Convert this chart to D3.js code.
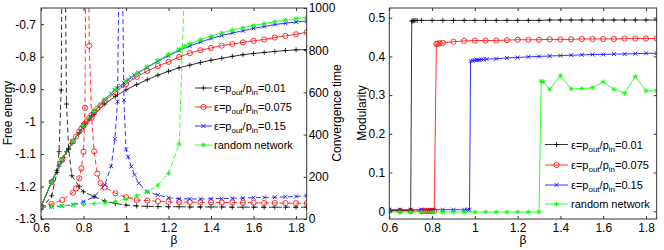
<!DOCTYPE html>
<html><head><meta charset="utf-8">
<script src="https://cdn.jsdelivr.net/npm/d3@7"></script>
<style>body{margin:0;background:#fff;} svg{display:block;font-family:"Liberation Sans",Arial,Helvetica,sans-serif;}</style>
</head><body><svg id="c" width="664" height="250"></svg>
<script>
// ---------- tick labels ----------
const xTicks=[0.6,0.8,1,1.2,1.4,1.6,1.8];
const feTicks=[-1.3,-1.2,-1.1,-1,-0.9,-0.8,-0.7];
const ctTicks=[0,200,400,600,800,1000];
const modTicks=[0,0.1,0.2,0.3,0.4,0.5];
const epsLabels=["0.01","0.075","0.15"];
const randomLabel="random network";
const colors=["#000000","#ff0000","#0000ff","#00ff00"];
const markerTypes=["plus","circle","cross","star"];

// ---------- left panel: free energy (solid) and convergence time (dashed) ----------
const betaBlack=[0.6,0.65,0.675,0.685,0.695,0.705,0.72,0.73,0.745,0.78,0.8,0.85,0.9,0.95,1.0,1.05,1.1,1.15,1.2,1.25,1.3,1.35,1.4,1.45,1.5,1.55,1.6,1.65,1.7,1.75,1.8,1.85];
const feBlack=[-1.262,-1.186,-1.150,-1.137,-1.124,-1.111,-1.093,-1.082,-1.067,-1.034,-1.016,-0.977,-0.946,-0.922,-0.902,-0.886,-0.871,-0.857,-0.845,-0.834,-0.826,-0.818,-0.811,-0.805,-0.799,-0.794,-0.790,-0.787,-0.784,-0.781,-0.779,-0.778];
const ctBlack=[45,110,220,319,611,2200,545,330,205,153,129,106,85,74,66,62,60,59,58,58,57,57,57,57,56,56,56,56,56,56,56,56];

const betaRed=[0.6,0.65,0.7,0.75,0.765,0.78,0.79,0.8,0.807,0.815,0.827,0.838,0.85,0.865,0.88,0.9,0.95,1.0,1.05,1.1,1.15,1.2,1.25,1.3,1.35,1.4,1.45,1.5,1.55,1.6,1.65,1.7,1.75,1.8,1.85];
const feRed=[-1.262,-1.186,-1.117,-1.061,-1.046,-1.031,-1.021,-1.012,-1.006,-0.999,-0.989,-0.980,-0.970,-0.960,-0.950,-0.937,-0.909,-0.884,-0.862,-0.844,-0.829,-0.816,-0.801,-0.789,-0.780,-0.773,-0.766,-0.761,-0.756,-0.751,-0.747,-0.741,-0.736,-0.731,-0.725];
const ctRed=[58,71,90,125,145,193,240,319,527,2200,821,480,320,215,170,150,122,103,90,87,84,82,80,80,79,79,78,78,77,77,76,76,75,75,75];

const betaBlue=[0.6,0.65,0.7,0.75,0.8,0.85,0.9,0.93,0.948,0.96,0.975,0.99,1.0,1.01,1.025,1.04,1.06,1.1,1.15,1.2,1.25,1.3,1.35,1.4,1.45,1.5,1.55,1.6,1.65,1.7,1.75,1.8,1.85];
const feBlue=[-1.262,-1.186,-1.117,-1.061,-1.012,-0.968,-0.932,-0.914,-0.903,-0.897,-0.889,-0.881,-0.876,-0.871,-0.864,-0.857,-0.849,-0.833,-0.814,-0.797,-0.781,-0.767,-0.755,-0.744,-0.735,-0.727,-0.720,-0.713,-0.707,-0.701,-0.697,-0.693,-0.690];
const ctBlue=[55,58,62,68,82,106,161,250,380,556,1900,564,330,295,248,209,169,129,114,101,96,95,95,96,97,98,99,101,102,103,105,107,110];

const betaGreen=[0.6,0.65,0.7,0.75,0.8,0.85,0.9,0.95,1.0,1.05,1.1,1.15,1.2,1.25,1.275,1.3,1.35,1.4,1.45,1.5,1.55,1.6,1.65,1.7,1.75,1.8,1.85];
const feGreen=[-1.262,-1.186,-1.117,-1.061,-1.012,-0.968,-0.932,-0.902,-0.875,-0.852,-0.831,-0.811,-0.793,-0.777,-0.768,-0.760,-0.748,-0.737,-0.727,-0.718,-0.711,-0.704,-0.698,-0.692,-0.687,-0.683,-0.679];
const ctGreen=[55,58,62,66,70,73,77,82,95,110,130,160,216,355,1100,null,null,null,null,null,null,null,null,null,null,null,null];

// ---------- right panel: modularity ----------
const betaModBlack=[0.6,0.65,0.7,0.705,0.71,0.715,0.72,0.73,0.75,0.8,0.85,0.9,0.95,1.0,1.05,1.1,1.15,1.2,1.25,1.3,1.35,1.4,1.45,1.5,1.55,1.6,1.65,1.7,1.75,1.8,1.85];
const modBlack=[0.002,0.002,0.002,0.491,0.492,0.492,0.493,0.493,0.493,0.493,0.493,0.493,0.493,0.493,0.493,0.493,0.493,0.493,0.493,0.493,0.494,0.494,0.494,0.494,0.494,0.494,0.494,0.494,0.494,0.494,0.494];

const betaModRed=[0.6,0.65,0.7,0.75,0.76,0.77,0.78,0.79,0.8,0.81,0.82,0.825,0.835,0.85,0.9,0.95,1.0,1.05,1.1,1.15,1.2,1.25,1.3,1.35,1.4,1.45,1.5,1.55,1.6,1.65,1.7,1.75,1.8,1.85];
const modRed=[0.001,0.001,0.001,0.001,0.001,0.001,0.001,0.001,0.001,0.001,0.432,0.433,0.434,0.435,0.438,0.440,0.441,0.441,0.441,0.442,0.443,0.443,0.443,0.444,0.444,0.444,0.445,0.445,0.445,0.445,0.446,0.446,0.446,0.446];

const betaModBlue=[0.6,0.65,0.7,0.75,0.8,0.85,0.9,0.95,0.965,0.975,0.98,0.99,1.0,1.01,1.02,1.03,1.04,1.055,1.1,1.15,1.2,1.25,1.3,1.35,1.4,1.45,1.5,1.55,1.6,1.65,1.7,1.75,1.8,1.85];
const modBlue=[0.004,0.004,0.004,0.004,0.004,0.004,0.004,0.004,0.004,0.004,0.388,0.389,0.390,0.391,0.391,0.392,0.392,0.393,0.394,0.396,0.397,0.399,0.400,0.401,0.402,0.403,0.404,0.405,0.405,0.406,0.406,0.407,0.408,0.408];

const betaModGreen=[0.6,0.65,0.7,0.75,0.8,0.85,0.9,0.95,1.0,1.05,1.1,1.15,1.2,1.25,1.3,1.31,1.32,1.35,1.4,1.45,1.5,1.55,1.6,1.65,1.7,1.75,1.8,1.85];
const modGreen=[-0.002,-0.002,-0.002,-0.002,-0.002,-0.002,-0.002,-0.002,-0.002,-0.002,-0.002,-0.002,-0.002,-0.002,-0.002,0.336,0.334,0.315,0.350,0.316,0.317,0.319,0.334,0.315,0.305,0.348,0.311,0.311];

// ---------- build ----------
const leftSeries=[
  {beta:betaBlack,fe:feBlack,ct:ctBlack},
  {beta:betaRed,fe:feRed,ct:ctRed},
  {beta:betaBlue,fe:feBlue,ct:ctBlue},
  {beta:betaGreen,fe:feGreen,ct:ctGreen}
];
const rightSeries=[
  {beta:betaModBlack,m:modBlack},
  {beta:betaModRed,m:modRed},
  {beta:betaModBlue,m:modBlue},
  {beta:betaModGreen,m:modGreen}
];
const legendLabels=[...epsLabels.map(e=>({eps:e})),{plain:randomLabel}];

const svg=d3.select('#c');
const L={x0:41,x1:306.7,y0:8,y1:219};
const R={x0:389.3,x1:656.7,y0:8,y1:219};
const xL=d3.scaleLinear().domain([0.6,1.85]).range([L.x0,L.x1]);
const yFE=d3.scaleLinear().domain([-1.3,-0.65]).range([L.y1,L.y0]);
const yCT=d3.scaleLinear().domain([0,1000]).range([L.y1,L.y0]);
const xR=d3.scaleLinear().domain([0.6,1.85]).range([R.x0,R.x1]);
const yM=d3.scaleLinear().domain([-0.02,0.525]).range([R.y1,R.y0]);

const defs=svg.append('defs');
defs.append('clipPath').attr('id','clipL').append('rect').attr('x',L.x0).attr('y',L.y0).attr('width',L.x1-L.x0).attr('height',L.y1-L.y0);
defs.append('clipPath').attr('id','clipR').append('rect').attr('x',R.x0).attr('y',R.y0).attr('width',R.x1-R.x0).attr('height',R.y1-R.y0);

function markerPath(type,x,y){
  const s=2.5;
  if(type==='plus') return `M${x-s},${y}H${x+s}M${x},${y-s}V${y+s}`;
  if(type==='cross'){const c=2;return `M${x-c},${y-c}L${x+c},${y+c}M${x-c},${y+c}L${x+c},${y-c}`;}
  if(type==='star'){const c=1.8;return `M${x-s},${y}H${x+s}M${x},${y-s}V${y+s}M${x-c},${y-c}L${x+c},${y+c}M${x-c},${y+c}L${x+c},${y-c}`;}
  const r=2.6;
  return `M${x+r},${y}A${r},${r} 0 1,1 ${x-r},${y}A${r},${r} 0 1,1 ${x+r},${y}Z`;
}
function drawSeries(g,pts,color,type,dashed){
  const line=d3.line().defined(d=>d[1]!=null).x(d=>d[0]).y(d=>d[1]);
  g.append('path').attr('d',line(pts)).attr('fill','none').attr('stroke',color)
   .attr('stroke-width',0.8).attr('stroke-dasharray',dashed?'5,3':null);
  g.append('path').attr('d',pts.filter(p=>p[1]!=null).map(p=>markerPath(type,p[0],p[1])).join(''))
   .attr('fill','none').attr('stroke',color).attr('stroke-width',0.8);
}
const fmt=d=>String(+(+d).toFixed(2));

function frameAndAxes(B,xs,yl,yr,ylTicks,yrTicks,ylPad,yrPad){
  const g=svg.append('g');
  const styl=sel=>{sel.select('.domain').remove();sel.attr('font-size',12).attr('font-family',null);
    sel.selectAll('line').attr('stroke','#333');sel.selectAll('text').attr('fill','#000');};
  g.append('g').attr('transform',`translate(0,${B.y1})`).call(d3.axisBottom(xs).tickValues(xTicks).tickFormat(fmt).tickSizeInner(-3).tickSizeOuter(0).tickPadding(4)).call(styl);
  g.append('g').attr('transform',`translate(0,${B.y0})`).call(d3.axisTop(xs).tickValues(xTicks).tickFormat('').tickSizeInner(-3).tickSizeOuter(0)).call(styl);
  g.append('g').attr('transform',`translate(${B.x0},0)`).call(d3.axisLeft(yl).tickValues(ylTicks).tickFormat(fmt).tickSizeInner(-3).tickSizeOuter(0).tickPadding(ylPad)).call(styl);
  const ar=d3.axisRight(yr).tickValues(yrTicks).tickSizeInner(-3).tickSizeOuter(0).tickPadding(yrPad);
  g.append('g').attr('transform',`translate(${B.x1},0)`).call(yrPad==null?ar.tickFormat(''):ar.tickFormat(fmt)).call(styl);
  g.append('rect').attr('x',B.x0).attr('y',B.y0).attr('width',B.x1-B.x0).attr('height',B.y1-B.y0)
   .attr('fill','none').attr('stroke','#333').attr('stroke-width',1);
}

// left panel data
const gL=svg.append('g').attr('clip-path','url(#clipL)');
leftSeries.forEach((s,i)=>{
  drawSeries(gL,s.beta.map((b,j)=>[xL(b),yFE(s.fe[j])]),colors[i],markerTypes[i],false);
});
leftSeries.forEach((s,i)=>{
  drawSeries(gL,s.beta.map((b,j)=>[xL(b),s.ct[j]==null?null:yCT(s.ct[j])]),colors[i],markerTypes[i],true);
});
frameAndAxes(L,xL,yFE,yCT,feTicks,ctTicks,5,2);

// right panel data
const gR=svg.append('g').attr('clip-path','url(#clipR)');
rightSeries.forEach((s,i)=>{
  drawSeries(gR,s.beta.map((b,j)=>[xR(b),yM(s.m[j])]),colors[i],markerTypes[i],false);
});
frameAndAxes(R,xR,yM,yM,modTicks,modTicks,4,null);

// axis labels
svg.append('text').attr('transform','translate(12,113) rotate(-90)').attr('text-anchor','middle').attr('font-size',12).text('Free energy');
svg.append('text').attr('transform','translate(341,113) rotate(-90)').attr('text-anchor','middle').attr('font-size',12).text('Convergence time');
svg.append('text').attr('transform','translate(366,113) rotate(-90)').attr('text-anchor','middle').attr('font-size',12).text('Modularity');
svg.append('text').attr('x',xL(1.225)).attr('y',244).attr('text-anchor','middle').attr('font-size',12).text('β');
svg.append('text').attr('x',xR(1.225)).attr('y',244).attr('text-anchor','middle').attr('font-size',12).text('β');

// legends
function legend(x0,x1,tx,ys){
  legendLabels.forEach((lab,i)=>{
    const y=ys[i];
    const g=svg.append('g');
    g.append('line').attr('x1',x0).attr('x2',x1).attr('y1',y).attr('y2',y).attr('stroke',colors[i]).attr('stroke-width',0.8);
    g.append('path').attr('d',markerPath(markerTypes[i],(x0+x1)/2,y)).attr('fill','none').attr('stroke',colors[i]).attr('stroke-width',0.8);
    const t=g.append('text').attr('x',tx).attr('y',y+4).attr('font-size',11);
    if(lab.plain){t.text(lab.plain);}
    else{
      t.append('tspan').text('ε=p');
      t.append('tspan').attr('font-size',8).attr('dy',3).text('out');
      t.append('tspan').attr('dy',-3).text('/p');
      t.append('tspan').attr('font-size',8).attr('dy',3).text('in');
      t.append('tspan').attr('dy',-3).text('='+lab.eps);
    }
  });
}
legend(195,212,214,[88,107,126,145]);
legend(545,568,571,[144.5,165,185,204]);
</script></body></html>
